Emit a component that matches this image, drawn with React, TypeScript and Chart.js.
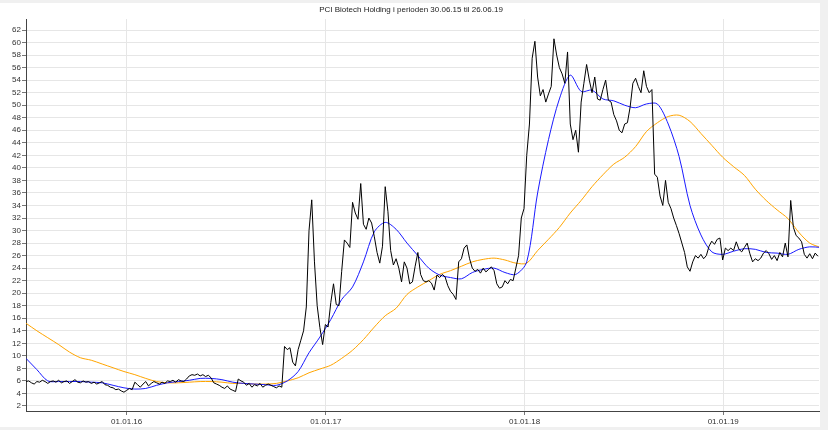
import React, { useEffect, useRef } from "react";
import { Chart, registerables } from "chart.js";

Chart.register(...registerables);

const TITLE = "PCI Biotech Holding i perioden 30.06.15 til 26.06.19";

// x axis: days since 30.06.15
const totalDays = 1457;
const tickDays = [185, 551, 916, 1281];
const tickLabels = ["01.01.16", "01.01.17", "01.01.18", "01.01.19"];

// closing price, one value every 5 days
const priceStepDays = 5;
const price = [
  5.9, 6.0, 5.7, 5.5, 5.9, 5.8, 6.1, 5.9, 5.6, 5.9,
  6.0, 5.8, 6.1, 5.7, 5.9, 6.0, 5.6, 5.9, 6.2, 5.8,
  5.7, 6.0, 5.8, 5.9, 5.6, 5.8, 5.5, 5.7, 5.9, 5.4,
  5.3, 5.0, 4.9, 4.6, 4.7, 4.4, 4.2, 4.5, 4.8, 4.6,
  5.8, 5.4, 5.0, 5.5, 5.9, 5.2, 5.6, 5.9, 5.7, 5.5,
  5.8, 5.6, 6.0, 5.9, 6.1, 5.8, 6.2, 6.0, 5.9, 6.3,
  6.8, 7.0, 6.9, 7.1, 6.8, 7.0, 6.7, 6.9, 6.5, 5.7,
  5.5, 5.3, 5.0, 4.8, 5.2, 4.7, 4.5, 4.3, 6.3, 6.0,
  5.8, 5.3, 5.6, 5.0, 5.4, 5.2, 5.6, 5.0, 5.3, 5.5,
  5.3, 5.1, 4.9, 5.2, 5.0, 11.5, 11.0, 11.3, 9.0, 8.4,
  11.0, 12.5, 14.0, 17.8, 30.0, 34.9, 25.0, 18.0, 14.5, 11.8,
  15.0, 14.6, 18.5, 21.5, 18.2, 18.0, 23.5, 28.5, 28.0, 27.3,
  34.5, 32.8, 31.8, 37.5, 31.0, 30.2, 32.0, 31.2, 29.0, 26.5,
  24.8, 27.5, 37.0, 33.0, 26.8, 24.5, 25.5, 24.0, 21.8, 25.0,
  24.0, 21.5, 21.8, 24.3, 26.5, 23.0, 22.0, 21.8, 22.0, 21.6,
  20.5, 22.9, 22.5, 23.0, 22.6, 21.2, 20.3, 19.8, 19.0, 25.0,
  25.5, 27.2, 27.7, 25.5, 24.0, 23.5, 23.8, 23.2, 24.0, 23.4,
  23.8, 24.2, 23.6, 21.5, 20.8, 21.0, 22.0, 21.5, 22.2, 22.0,
  24.0, 26.0, 32.0, 33.5, 42.0, 47.0, 57.5, 60.2, 54.5, 51.5,
  52.5, 50.5, 51.8, 53.0, 60.6, 58.0, 56.0, 55.0, 53.5, 58.5,
  47.0, 44.5, 46.0, 42.5, 50.5, 53.5, 56.5, 54.0, 52.0, 54.5,
  51.0, 50.8, 52.5, 54.0, 50.8, 50.5, 48.5, 47.5, 46.0, 45.6,
  47.0, 47.2, 49.7, 53.5, 54.3, 53.0, 52.0, 55.5, 53.0, 52.0,
  52.5, 39.0, 38.5, 35.5, 34.0, 38.0, 34.5, 33.5, 32.0, 30.8,
  29.5, 28.0, 26.5, 24.2, 23.5, 25.0, 26.0, 25.6, 26.2, 25.5,
  26.0, 27.5, 28.3, 27.8, 28.6, 28.8, 25.3, 27.2, 26.8, 27.2,
  26.8, 28.2, 27.0, 26.6, 27.3, 28.0, 26.3, 25.0, 25.5, 25.2,
  25.6, 26.4, 26.8, 26.3, 25.4, 26.0, 25.2, 26.5, 25.8, 28.0,
  25.8, 34.8, 30.5, 29.2, 28.8, 28.2, 26.2, 25.6, 26.3, 25.5,
  26.4, 25.9,
];

// moving averages, one value every 20 days
const maStepDays = 20;
const maShort = [
  9.6, 7.8, 6.0, 5.9, 5.9, 5.9, 5.8, 5.7, 5.3, 4.9,
  4.7, 4.8, 5.3, 5.7, 5.9, 6.1, 6.4, 6.4, 6.2, 5.8,
  5.6, 5.5, 5.4, 5.3, 6.0, 7.5, 10.5, 13.0, 15.8, 19.0,
  21.0, 25.0, 29.8, 31.3, 30.2, 28.0, 26.0, 24.0, 22.9, 22.5,
  22.3, 23.3, 23.8, 24.0, 23.3, 23.0, 25.0, 36.0, 44.5, 51.0,
  54.8, 52.2, 52.4, 51.0, 50.7, 50.0, 49.6, 50.2, 50.2, 47.0,
  41.8, 34.0, 29.3, 26.6, 26.2, 26.7, 27.1, 27.0, 26.5, 26.4,
  26.2, 27.0, 27.4, 27.3,
];
const maLong = [
  15.2, 14.0, 12.9, 11.8, 10.6, 9.7, 9.3, 8.7, 8.1, 7.5,
  7.0, 6.4, 5.9, 5.7, 5.7, 5.8, 5.9, 5.9, 5.8, 5.6,
  5.6, 5.5, 5.5, 5.6, 6.0, 6.5, 7.3, 7.9, 8.5, 9.6,
  10.9, 12.6, 14.6, 16.4, 17.6, 19.8, 21.0, 22.0, 23.0, 23.6,
  24.3, 25.0, 25.4, 25.6, 25.3, 24.8, 24.8, 26.8, 28.6, 30.5,
  32.8, 34.8, 37.0, 38.9, 40.6, 41.7, 43.4, 45.8, 47.2, 48.2,
  48.4, 47.4, 45.5, 43.6, 41.7, 40.2, 38.8, 36.6, 34.8, 33.3,
  31.9, 29.7, 28.0, 27.3,
];

const W = 828;
const H = 430;

const framePlugin = {
  id: "frame",
  beforeDraw(chart: any) {
    const c = chart.ctx;
    c.save();
    c.fillStyle = "#f0f0f0";
    c.fillRect(0, 0, W, H);
    c.fillStyle = "#ffffff";
    c.fillRect(0, 3, 820, 424);
    c.restore();
  },
  afterDraw(chart: any) {
    const c = chart.ctx;
    c.save();
    c.fillStyle = "#222";
    c.font = '8px "Liberation Sans", Arial, sans-serif';
    c.textAlign = "center";
    c.textBaseline = "middle";
    c.fillText(TITLE, 411, 10);
    c.restore();
  },
};

export default function App() {
  const ref = useRef<HTMLCanvasElement | null>(null);

  useEffect(() => {
    document.body.style.margin = "0";
    document.body.style.background = "#f0f0f0";
    const canvas = ref.current;
    if (!canvas) return;

    const pricePts = price.map((v, i) => ({ x: i * priceStepDays, y: v }));
    const shortPts = maShort.map((v, i) => ({ x: i * maStepDays, y: v }));
    const longPts = maLong.map((v, i) => ({ x: i * maStepDays, y: v }));

    const tickFont = { family: '"Liberation Sans", Arial, sans-serif', size: 8 };

    const chart = new Chart(canvas, {
      type: "line",
      data: {
        datasets: [
          {
            label: "Kurs",
            data: pricePts,
            borderColor: "#000000",
            borderWidth: 1,
            pointRadius: 0,
            tension: 0,
          },
          {
            label: "MA kort",
            data: shortPts,
            borderColor: "#1a1aff",
            borderWidth: 1,
            pointRadius: 0,
            tension: 0.3,
          },
          {
            label: "MA lang",
            data: longPts,
            borderColor: "#ffa500",
            borderWidth: 1,
            pointRadius: 0,
            tension: 0.3,
          },
        ],
      },
      options: {
        animation: false,
        responsive: false,
        devicePixelRatio: 1,
        layout: { padding: { left: 0, right: 9, top: 19, bottom: 0 } },
        plugins: {
          legend: { display: false },
          title: { display: false },
          tooltip: { enabled: false },
        },
        scales: {
          x: {
            type: "linear",
            min: 0,
            max: totalDays,
            afterBuildTicks: (scale: any) => {
              scale.ticks = tickDays.map((v) => ({ value: v }));
            },
            afterFit: (scale: any) => {
              scale.height = 19;
            },
            ticks: {
              autoSkip: false,
              maxRotation: 0,
              padding: 2,
              color: "#333",
              font: tickFont,
              callback: (v: any) => {
                const i = tickDays.indexOf(Number(v));
                return i >= 0 ? tickLabels[i] : "";
              },
            },
            grid: {
              color: "#e6e6e6",
              tickColor: "#777",
              tickLength: 4,
            },
            border: { color: "#444", width: 1 },
          },
          y: {
            type: "linear",
            min: 1.2,
            max: 63.76,
            afterFit: (scale: any) => {
              scale.width = 26;
            },
            ticks: {
              stepSize: 2,
              includeBounds: false,
              autoSkip: false,
              padding: 1,
              color: "#333",
              font: tickFont,
            },
            grid: {
              color: "#e6e6e6",
              tickColor: "#777",
              tickLength: 4,
            },
            border: { color: "#444", width: 1 },
          },
        },
      },
      plugins: [framePlugin],
    } as any);

    return () => chart.destroy();
  }, []);

  return (
    <div style={{ position: "fixed", left: 0, top: 0, width: W, height: H }}>
      <canvas ref={ref} width={W} height={H} style={{ width: W, height: H, display: "block" }} />
    </div>
  );
}
